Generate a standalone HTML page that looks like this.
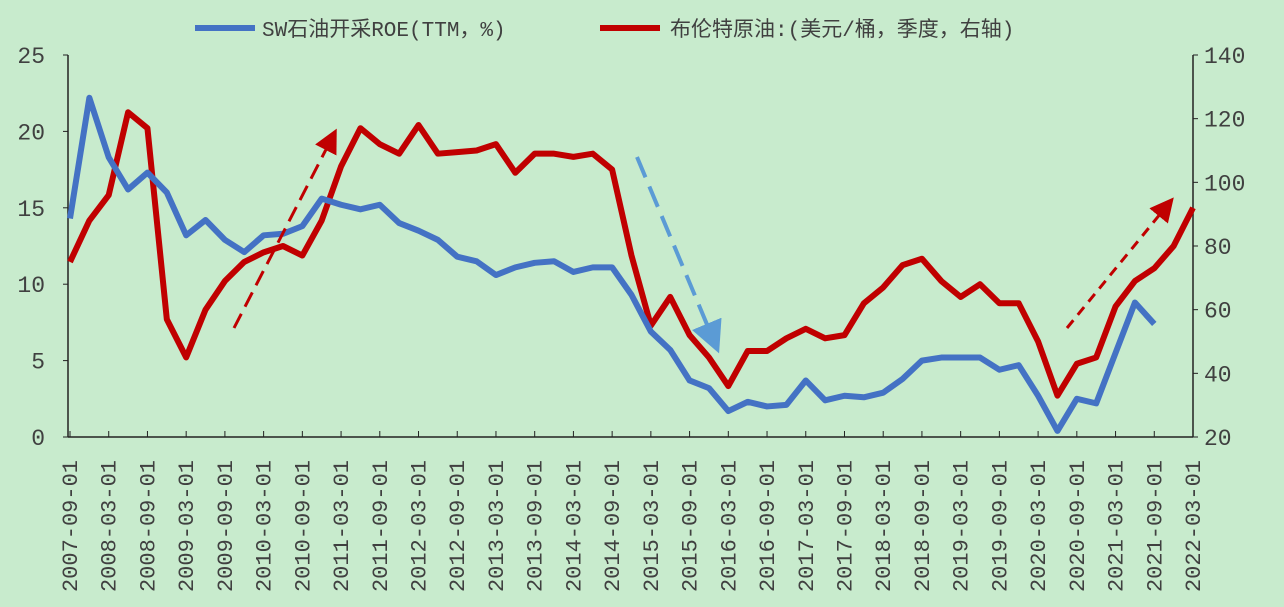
<!DOCTYPE html>
<html><head><meta charset="utf-8"><style>
body{margin:0;background:#c8ebcd;}
svg{display:block;font-family:"Liberation Mono","Noto Sans CJK SC",monospace;}
</style></head><body>
<svg id="chart" width="1284" height="607" viewBox="0 0 1284 607">
<rect width="1284" height="607" fill="#c8ebcd"/>
<g id="legend">
<line x1="195" y1="28" x2="255" y2="28" stroke="#4472c4" stroke-width="6"/>
<text x="262" y="36" font-size="21" fill="#404040">SW石油开采ROE(TTM，%)</text>
<line x1="600" y1="28" x2="660" y2="28" stroke="#c00000" stroke-width="6"/>
<text x="670" y="36" font-size="21" fill="#404040">布伦特原油:(美元/桶，季度，右轴)</text>
</g>
<g id="axes"></g>
<g id="series"></g>
<g id="arrows">
<defs>
<marker id="ar" markerWidth="8" markerHeight="8" refX="6" refY="4" orient="auto"><path d="M0,0 L8,4 L0,8 z" fill="#c00000"/></marker>
<marker id="ab" markerWidth="8" markerHeight="8" refX="6" refY="4" orient="auto"><path d="M0,0 L8,4 L0,8 z" fill="#5b9bd5"/></marker>
</defs>
<line x1="234" y1="328" x2="334" y2="134" stroke="#c00000" stroke-width="3" stroke-dasharray="16,8" marker-end="url(#ar)"/>
<line x1="637" y1="157" x2="716" y2="346" stroke="#5b9bd5" stroke-width="4" stroke-dasharray="22,10" marker-end="url(#ab)"/>
<line x1="1067" y1="328" x2="1170" y2="202" stroke="#c00000" stroke-width="3" stroke-dasharray="10,7" marker-end="url(#ar)"/>
</g>
</svg>
<script>
const xLabels=["2007-09-01","2008-03-01","2008-09-01","2009-03-01","2009-09-01","2010-03-01","2010-09-01","2011-03-01","2011-09-01","2012-03-01","2012-09-01","2013-03-01","2013-09-01","2014-03-01","2014-09-01","2015-03-01","2015-09-01","2016-03-01","2016-09-01","2017-03-01","2017-09-01","2018-03-01","2018-09-01","2019-03-01","2019-09-01","2020-03-01","2020-09-01","2021-03-01","2021-09-01","2022-03-01"];
const leftTicks=[0,5,10,15,20,25];
const rightTicks=[20,40,60,80,100,120,140];
const roe=[14.3,22.2,18.3,16.2,17.3,16.0,13.2,14.2,12.9,12.1,13.2,13.3,13.8,15.6,15.2,14.9,15.2,14.0,13.5,12.9,11.8,11.5,10.6,11.1,11.4,11.5,10.8,11.1,11.1,9.3,6.9,5.7,3.7,3.2,1.7,2.3,2.0,2.1,3.7,2.4,2.7,2.6,2.9,3.8,5.0,5.2,5.2,5.2,4.4,4.7,2.7,0.4,2.5,2.2,5.5,8.8,7.4];
const brent=[75,88,96,122,117,57,45,60,69,75,78,80,77,88,105,117,112,109,118,109,109.5,110,112,103,109,109,108,109,104,77,55,64,52,45,36,47,47,51,54,51,52,62,67,74,76,69,64,68,62,62,50,33,43,45,61,69,73,80,92];
const NS="http://www.w3.org/2000/svg";
const X0=70,X1=1193,Y0=437,Y1=55;
const nQ=(xLabels.length-1)*2;
const x=i=>X0+(X1-X0)*i/nQ;
const yL=v=>Y0-(Y0-Y1)*v/25;
const yR=v=>Y0-(Y0-Y1)*(v-20)/120;
function mk(tag,attrs,parent){const e=document.createElementNS(NS,tag);for(const k in attrs)e.setAttribute(k,attrs[k]);parent.appendChild(e);return e;}
const axes=document.getElementById('axes');
const series=document.getElementById('series');
let a=mk('line',{x1:68,y1:Y1,x2:68,y2:Y0,stroke:'#222','stroke-width':1.5},axes);


a=mk('line',{x1:X1,y1:Y1,x2:X1,y2:Y0,stroke:'#222','stroke-width':1.5},axes);


a=mk('line',{x1:68,y1:Y0,x2:X1,y2:Y0,stroke:'#222','stroke-width':1.5},axes);


leftTicks.forEach(v=>{
 const t=mk('text',{x:45,y:yL(v)+8,'font-size':23,fill:'#404040','text-anchor':'end'},axes);
 t.textContent=v;
 
 
 const k=mk('line',{x1:63,x2:68,y1:yL(v),y2:yL(v),stroke:'#222'},axes);
 
 
});
rightTicks.forEach(v=>{
 const t=mk('text',{x:1204,y:yR(v)+8,'font-size':23,fill:'#404040'},axes);
 t.textContent=v;
 
 
 const k=mk('line',{x1:X1,x2:X1+5,y1:yR(v),y2:yR(v),stroke:'#222'},axes);
 
 
});
xLabels.forEach((l,i)=>{
 const px=x(i*2);
 const t=mk('text',{x:0,y:0,'font-size':22,fill:'#404040','text-anchor':'end',transform:`translate(${px+7},${460}) rotate(-90)`},axes);
 t.textContent=l;
 
 
 const k=mk('line',{x1:px,x2:px,y1:Y0,y2:Y0-6,stroke:'#222'},axes);
 
 
});
let p=mk('polyline',{points:brent.map((v,i)=>x(i)+','+yR(v)).join(' '),fill:'none',stroke:'#c00000','stroke-width':6,'stroke-linejoin':'round'},series);


p=mk('polyline',{points:roe.map((v,i)=>x(i)+','+yL(v)).join(' '),fill:'none',stroke:'#4472c4','stroke-width':6,'stroke-linejoin':'round'},series);


</script>
</body></html>
